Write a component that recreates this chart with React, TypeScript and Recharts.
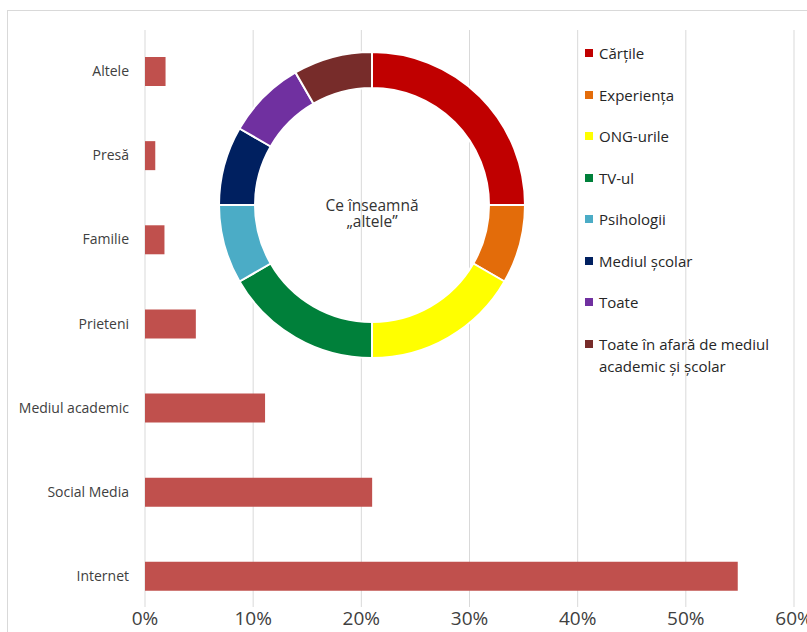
import React from 'react';
import {
    BarChart, Bar, XAxis, YAxis, CartesianGrid, PieChart, Pie, Cell, Legend
} from 'recharts';

const categories = ['Altele', 'Presă', 'Familie', 'Prieteni', 'Mediul academic', 'Social Media', 'Internet'];
const shares = [0.019, 0.0095, 0.018, 0.047, 0.111, 0.21, 0.548];
const xTicks = [0, 0.1, 0.2, 0.3, 0.4, 0.5, 0.6];

const otherNames = ['Cărțile', 'Experiența', 'ONG-urile', 'TV-ul', 'Psihologii', 'Mediul școlar', 'Toate', 'Toate în afară de mediul academic și școlar'];
const otherCounts = [3, 1, 2, 2, 1, 1, 1, 1];
const otherColors = ['#c00000', '#e36c0a', '#ffff00', '#00803a', '#4bacc6', '#002060', '#7030a0', '#772c2a'];
const centerLines = ['Ce înseamnă', '„altele”'];

const FONT = '"Open Sans", sans-serif';
const PIE_CX = 372;
const PIE_CY = 205;

const barData = categories.map((name, i) => ({ name, value: shares[i] }));
const pieData = otherNames.map((name, i) => ({ name, value: otherCounts[i] }));

const XTick = ({ x, payload }: any) => (
    <text x={x} y={625} textAnchor="middle" fontSize={19} fontFamily={FONT} fill="#404040">
        {`${Math.round(payload.value * 100)}%`}
    </text>
);

const YTick = ({ y, payload }: any) => (
    <text x={129} y={y} dy={5} textAnchor="end" fontSize={14} fontFamily={FONT} fill="#404040">
        {payload.value}
    </text>
);

const LegendList = () => (
    <div style={{ fontFamily: FONT, fontSize: 15, color: '#262626' }}>
        {otherNames.map((name, i) => (
            <div key={name} style={{ position: 'relative', height: 41.5, lineHeight: '22px', paddingLeft: 19, width: 195 }}>
                <span style={{ position: 'absolute', left: 5, top: 7, width: 8, height: 8, background: otherColors[i] }} />
                {name}
            </div>
        ))}
    </div>
);

export default function App() {
    return (
        <div style={{ position: 'absolute', left: 0, top: 0, width: 807, height: 632, overflow: 'hidden', background: '#fff' }}>
            <div style={{ position: 'absolute', left: 7, top: 10, width: 830, height: 650, border: '1px solid #d9d9d9' }} />
            <div style={{ position: 'absolute', left: 0, top: 0 }}>
                <BarChart width={807} height={632} data={barData} layout="vertical" margin={{ top: 29, right: 13, bottom: 0, left: 0 }}>
                    <CartesianGrid horizontal={false} vertical={true} stroke="#d9d9d9" y={30} height={577} />
                    <XAxis type="number" domain={[0, 0.6]} ticks={xTicks} axisLine={false} tickLine={false} height={14} tick={<XTick />} interval={0} />
                    <YAxis type="category" dataKey="name" width={145} axisLine={false} tickLine={false} tick={<YTick />} interval={0} />
                    <Bar dataKey="value" fill="#c0504d" barSize={29} isAnimationActive={false} />
                </BarChart>
            </div>
            <div style={{ position: 'absolute', left: 0, top: 0 }}>
                <PieChart width={807} height={632} margin={{ top: 0, right: 0, bottom: 0, left: 0 }}>
                    <Pie
                        data={pieData}
                        dataKey="value"
                        nameKey="name"
                        cx={PIE_CX}
                        cy={PIE_CY}
                        innerRadius={117}
                        outerRadius={153}
                        startAngle={90}
                        endAngle={-270}
                        stroke="#fff"
                        strokeWidth={2}
                        isAnimationActive={false}
                    >
                        {pieData.map((entry, i) => (
                            <Cell key={entry.name} fill={otherColors[i]} />
                        ))}
                    </Pie>
                    <Legend
                        layout="vertical"
                        align="right"
                        verticalAlign="middle"
                        content={<LegendList />}
                        wrapperStyle={{ position: 'absolute', left: 580, top: 42, width: 220 }}
                    />
                </PieChart>
            </div>
            {centerLines.map((line, i) => (
                <div
                    key={line}
                    style={{
                        position: 'absolute', left: PIE_CX - 60, top: PIE_CY - 8 + i * 16, width: 120, height: 16,
                        textAlign: 'center', fontFamily: FONT, fontSize: 15.5, lineHeight: '16px', color: '#333'
                    }}
                >
                    {line}
                </div>
            ))}
        </div>
    );
}
